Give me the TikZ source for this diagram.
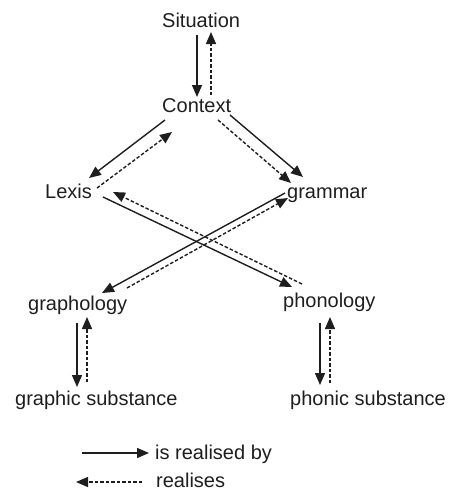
\documentclass[tikz,border=0pt]{standalone}
\usepackage{fontspec}
\setmainfont{Liberation Sans}
\usetikzlibrary{arrows.meta,calc}
\definecolor{ink}{HTML}{1E1E1E}
\tikzset{
  lbl/.style={anchor=base west,inner sep=0pt,text=ink,font=\fontsize{20}{24}\selectfont},
  real/.style={draw=ink,line width=1.4pt,-{Triangle[length=12pt,width=10pt]}},
  reals/.style={real,dash pattern=on 3.5pt off 2pt}
}
\begin{document}
\begin{tikzpicture}[x=1pt,y=-1pt]
\useasboundingbox (0,0) rectangle (453,491);
\node[lbl] (sit) at (162,27) {Situation};
\node[lbl] (ctx) at (162,112) {Context};
\node[lbl] (lex) at (45,198) {Lexis};
\node[lbl] (gram) at (287,198) {grammar};
\node[lbl] (graph) at (28,310) {graphology};
\node[lbl] (phon) at (283,307) {phonology};
\node[lbl] (gs) at (15,405) {graphic substance};
\node[lbl] (ps) at (290,405) {phonic substance};
\node[lbl] (l1) at (155,459) {is realised by};
\node[lbl] (l2) at (156,487) {realises};
% Situation / Context
\draw[real] ($(sit.base west)+(35,8)$) -- ($(ctx.base west)+(35,-15)$);
\draw[reals] ($(ctx.base west)+(49,-17)$) -- ($(sit.base west)+(49,5)$);
% Context / Lexis
\draw[real] ($(ctx.base west)+(3,8)$) -- ($(lex.base west)+(44,-20)$);
\draw[reals] ($(lex.base west)+(52,-10)$) -- ($(ctx.base west)+(10,20)$);
% Context / grammar
\draw[real] ($(ctx.base west)+(68,3)$) -- ($(gram.base west)+(16,-21)$);
\draw[reals] ($(ctx.base west)+(56,8)$) -- ($(gram.base west)+(4,-15)$);
% Lexis / phonology
\draw[real] ($(lex.base west)+(58,-1)$) -- ($(phon.base west)+(9,-20)$);
\draw[reals] ($(phon.base west)+(19,-23)$) -- ($(lex.base west)+(68,-6)$);
% grammar / graphology
\draw[real] ($(gram.base west)+(-2,-5)$) -- ($(graph.base west)+(74,-17)$);
\draw[reals] ($(graph.base west)+(99,-22)$) -- ($(gram.base west)+(1,0)$);
% graphology / graphic substance
\draw[real] ($(graph.base west)+(49,13)$) -- ($(gs.base west)+(62,-18)$);
\draw[reals] ($(gs.base west)+(72,-23)$) -- ($(graph.base west)+(59,7)$);
% phonology / phonic substance
\draw[real] ($(phon.base west)+(37,16)$) -- ($(ps.base west)+(30,-20)$);
\draw[reals] ($(ps.base west)+(40,-22)$) -- ($(phon.base west)+(47,10)$);
% legend
\coordinate (k1) at (82,453);
\coordinate (k2) at (76,482);
\draw[real] (k1) -- ($(l1.base west)+(-6,-6)$);
\draw[reals] ($(l2.base west)+(-14,-5)$) -- (k2);
\end{tikzpicture}
\end{document}
